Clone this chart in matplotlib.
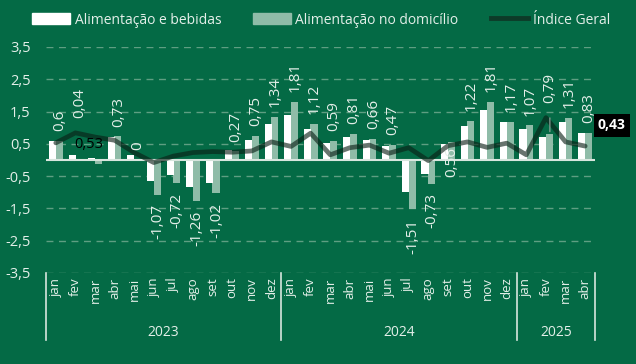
import matplotlib.pyplot as plt
import matplotlib.patches as mpatches
from matplotlib.lines import Line2D
from matplotlib.transforms import blended_transform_factory
import numpy as np

plt.rcParams['font.family'] = ['Open Sans', 'DejaVu Sans']

months = ['jan', 'fev', 'mar', 'abr', 'mai', 'jun', 'jul', 'ago', 'set', 'out', 'nov', 'dez',
          'jan', 'fev', 'mar', 'abr', 'mai', 'jun', 'jul', 'ago', 'set', 'out', 'nov', 'dez',
          'jan', 'fev', 'mar', 'abr']
years = ['2023', '2024', '2025']
year_len = [12, 12, 4]

alim_bebidas = [0.59, 0.16, 0.05, 0.71, 0.16, -0.66, -0.46, -0.85, -0.71, 0.31, 0.63, 1.11,
                1.38, 0.95, 0.53, 0.70, 0.62, 0.44, -1.00, -0.44, 0.50, 1.06, 1.55, 1.18,
                0.96, 0.70, 1.17, 0.82]
alim_domicilio = [0.60, 0.04, -0.14, 0.73, 0.00, -1.07, -0.72, -1.26, -1.02, 0.27, 0.75, 1.34,
                  1.81, 1.12, 0.59, 0.81, 0.66, 0.47, -1.51, -0.73, 0.56, 1.22, 1.81, 1.17,
                  1.07, 0.79, 1.31, 0.83]
indice_geral = [0.53, 0.84, 0.71, 0.61, 0.23, -0.08, 0.12, 0.23, 0.26, 0.24, 0.28, 0.56,
                0.42, 0.83, 0.16, 0.38, 0.46, 0.21, 0.38, -0.02, 0.44, 0.56, 0.39, 0.52,
                0.16, 1.31, 0.56, 0.43]

BG = '#046a45'
SAGE = '#8fbca8'
TXT = '#e4efe9'

def br(v):
    s = ('%.2f' % v).rstrip('0').rstrip('.')
    if s == '-0':
        s = '0'
    return s.replace('.', ',')

fig = plt.figure(figsize=(6.36, 3.64), dpi=100, facecolor=BG)
ax = fig.add_axes([0.0723, 0.25, 0.8632, 0.621], facecolor=BG)

x = np.arange(len(months))
w = 0.36
ax.bar(x + 0.17, alim_domicilio, w, color=SAGE, zorder=2)
ax.bar(x - 0.17, alim_bebidas, w, color='white', zorder=3)
ax.plot(x, indice_geral, color='#0a1f15', alpha=0.62, lw=3.4, zorder=4, solid_capstyle='round')

ax.set_xlim(-0.5, len(months) - 0.5)
ax.set_ylim(-3.5, 3.5)
yt = np.arange(-3.5, 3.6, 1.0)
ax.set_yticks(yt)
ax.set_yticklabels([br(v) for v in yt], color=TXT, fontsize=10.5)
ax.tick_params(axis='y', length=0, pad=11)
ax.set_xticks([])
for s in ax.spines.values():
    s.set_visible(False)
for v in yt:
    ax.axhline(v, color='#5f9e82', lw=1, ls=(0, (5, 4)), zorder=1)
ax.axhline(0, color='#d8e6de', lw=1.5, zorder=3.5)

# data labels (Alimentação no domicílio)
shift = {1: 22, 25: 16}
for i, v in enumerate(alim_domicilio):
    if i == 2:
        continue
    if i == 20:
        ax.annotate(br(v), (x[i] + 0.2, v), xytext=(0, -4), textcoords='offset points',
                    rotation=90, ha='center', va='top', color=TXT, fontsize=11, zorder=5)
        continue
    off = 7 + shift.get(i, 0)
    if v >= 0:
        ax.annotate(br(v), (x[i] + 0.2, v), xytext=(0, off), textcoords='offset points',
                    rotation=90, ha='center', va='bottom', color=TXT, fontsize=11, zorder=5)
    else:
        ax.annotate(br(v), (x[i] + 0.2, v), xytext=(0, -off), textcoords='offset points',
                    rotation=90, ha='center', va='top', color=TXT, fontsize=11, zorder=5)
    if i == 25:
        ax.annotate('', (x[i] + 0.2, v), xytext=(x[i] + 0.2, v + 0.6),
                    arrowprops=dict(arrowstyle='-', color='#9aa7a1', lw=0.8), zorder=5)

ax.text(1.7, 0.48, br(indice_geral[0]), color='black', fontsize=10.5, ha='center', va='center', zorder=5)
ax.text(28.35, 1.07, br(indice_geral[-1]), color='white', fontsize=10, fontweight='bold',
        ha='center', va='center', clip_on=False, zorder=6,
        bbox=dict(boxstyle='square,pad=0.3', fc='black', ec='none'))

# category axis
tr = blended_transform_factory(ax.transData, ax.transAxes)
for i, m in enumerate(months):
    ax.text(x[i], -0.02, m, rotation=90, ha='center', va='top', color=TXT, fontsize=9.5, transform=tr)
start = -0.5
seps = [start]
for yr, n in zip(years, year_len):
    ax.text(start + n / 2, -0.265, yr, ha='center', va='center', color=TXT, fontsize=10, transform=tr)
    start += n
    seps.append(start)
for s in seps:
    ax.plot([s, s], [0, -0.296], color='#d8e6de', lw=1.2, transform=tr, clip_on=False)

handles = [mpatches.Patch(color='white'), mpatches.Patch(color=SAGE),
           Line2D([], [], color='#0d3b28', lw=3.5)]
fig.legend(handles, ['Alimentação e bebidas', 'Alimentação no domicílio', 'Índice Geral'],
           loc='upper center', bbox_to_anchor=(0.505, 1.0), ncol=3, frameon=False,
           labelcolor=TXT, fontsize=10, handlelength=2.7, handleheight=0.9,
           columnspacing=2.3, handletextpad=0.35)

fig.savefig('out.png', dpi=100, facecolor=BG)
